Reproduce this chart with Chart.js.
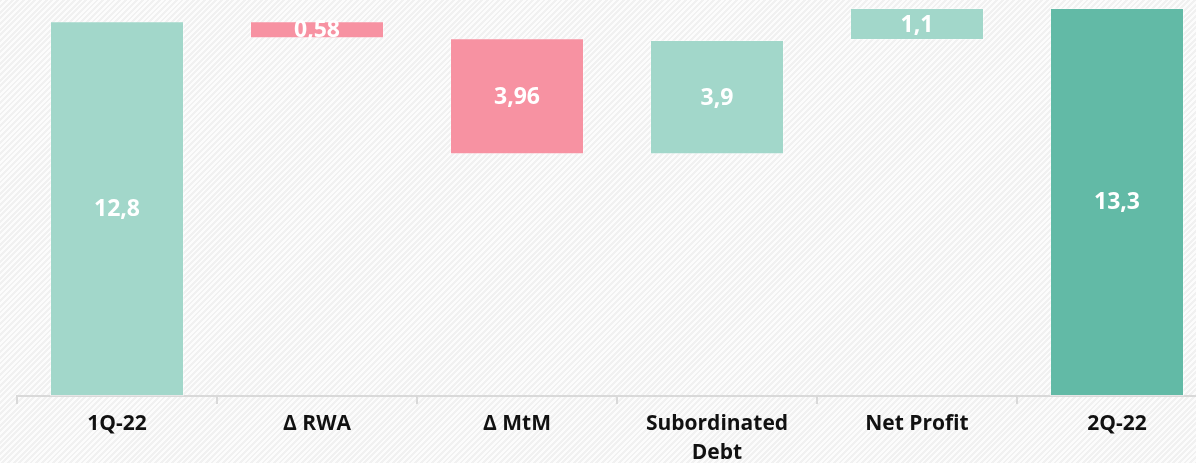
<!DOCTYPE html>
<html>
<head>
<meta charset="utf-8">
<script src="https://cdn.jsdelivr.net/npm/chart.js@4/dist/chart.umd.min.js"></script>
<style>
  html, body {
    margin: 0;
    padding: 0;
    overflow: hidden;
    width: 1196px;
    height: 463px;
    background: repeating-linear-gradient(135deg, #f1f1f1 0px, #f1f1f1 2px, #fcfcfc 2px, #fcfcfc 4px);
  }
  #wrap { position: relative; width: 1220px; height: 463px; }
</style>
</head>
<body>
<div id="wrap"><canvas id="chartWaterfall"></canvas></div>
<script>
// 类目与数值
var categories = ['1Q-22', 'Δ RWA', 'Δ MtM', ['Subordinated', 'Debt'], 'Net Profit', '2Q-22'];
var barLow = [0, 12.22, 8.26, 8.26, 12.16, 0];
var barHigh = [12.8, 12.8, 12.22, 12.16, 13.26, 13.26];
var valueLabels = ['12,8', '0,58', '3,96', '3,9', '1,1', '13,3'];
var barColors = ['#a2d7ca', '#f792a2', '#f792a2', '#a2d7ca', '#a2d7ca', '#62baa6'];

var ranges = [];
for (var i = 0; i < barLow.length; i++) {
    ranges.push([barLow[i], barHigh[i]]);
}

// 柱内数值标签
var valueLabelPlugin = {
    id: 'valueLabels',
    afterDatasetsDraw: function (chart) {
        var ctx = chart.ctx;
        var meta = chart.getDatasetMeta(0);
        ctx.save();
        ctx.fillStyle = '#ffffff';
        ctx.font = 'bold 23px "Open Sans"';
        ctx.textAlign = 'center';
        ctx.textBaseline = 'middle';
        meta.data.forEach(function (bar, idx) {
            var p = bar.getProps(['x', 'y', 'base'], true);
            ctx.fillText(valueLabels[idx], p.x, (p.y + p.base) / 2 + 1);
        });
        ctx.restore();
    }
};

var ctx = document.getElementById('chartWaterfall');
new Chart(ctx.getContext('2d'), {
    type: 'bar',
    data: {
        labels: categories,
        datasets: [{
            data: ranges,
            backgroundColor: barColors,
            borderColor: 'rgba(255,255,255,0.35)',
            borderWidth: 1,
            borderSkipped: false,
            barPercentage: 0.67,
            categoryPercentage: 1
        }]
    },
    options: {
        responsive: true,
        maintainAspectRatio: false,
        animation: false,
        layout: { padding: { left: 17, right: 3, top: 0, bottom: 0 } },
        plugins: {
            legend: { display: false },
            tooltip: { enabled: false }
        },
        scales: {
            y: {
                display: false,
                min: 0,
                max: 13.53
            },
            x: {
                afterFit: function (scale) { scale.height = 67; },
                grid: {
                    drawOnChartArea: false,
                    drawTicks: true,
                    tickLength: 8,
                    color: '#d9d9d9',
                    lineWidth: 2
                },
                border: { color: '#d9d9d9', width: 2 },
                ticks: {
                    color: '#111111',
                    padding: 6,
                    maxRotation: 0,
                    font: { family: 'Open Sans', size: 21, weight: 'bold', lineHeight: 1.35 }
                }
            }
        }
    },
    plugins: [valueLabelPlugin]
});
</script>
</body>
</html>
